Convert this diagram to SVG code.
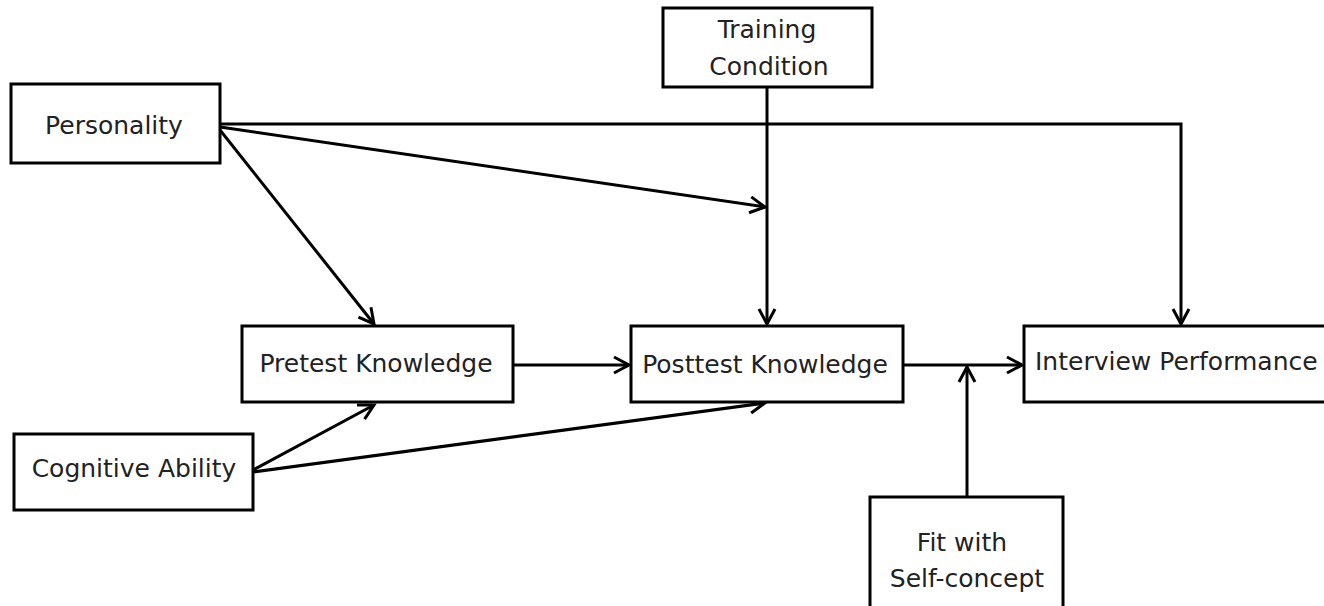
<svg xmlns="http://www.w3.org/2000/svg" width="1324" height="606" viewBox="0 0 1324 606">
  <defs>
    <marker id="arr" markerUnits="userSpaceOnUse" markerWidth="24" markerHeight="24" viewBox="-18 -12 24 24" refX="0" refY="0" orient="auto">
      <path d="M -15 -8 L 0 0 L -15 8" fill="none" stroke="#000" stroke-width="3"/>
    </marker>
  </defs>
  <style>
    .box { fill: #fff; stroke: #000; stroke-width: 3; }
    .lbl { font-family: "DejaVu Sans", Verdana, sans-serif; font-size: 25px; fill: #222; text-anchor: middle; }
    .con { fill: none; stroke: #000; stroke-width: 3; }
  </style>
  <rect width="1324" height="606" fill="#fff"/>

  <g id="connectors">
    <polyline class="con" points="220,124 1181,124 1181,324" marker-end="url(#arr)"/>
    <line class="con" x1="220" y1="127" x2="765" y2="207" marker-end="url(#arr)"/>
    <line class="con" x1="220" y1="130" x2="374" y2="324" marker-end="url(#arr)"/>
    <line class="con" x1="767" y1="87" x2="767" y2="324" marker-end="url(#arr)"/>
    <line class="con" x1="253" y1="470" x2="374" y2="405" marker-end="url(#arr)"/>
    <line class="con" x1="253" y1="472" x2="765" y2="403" marker-end="url(#arr)"/>
    <line class="con" x1="513" y1="365" x2="629" y2="365" marker-end="url(#arr)"/>
    <line class="con" x1="903" y1="365" x2="1022" y2="365" marker-end="url(#arr)"/>
    <line class="con" x1="967" y1="497" x2="967" y2="367" marker-end="url(#arr)"/>
  </g>

  <g id="personality">
    <rect class="box" x="11" y="84" width="209" height="79"/>
    <text class="lbl" x="114" y="134">Personality</text>
  </g>
  <g id="training">
    <rect class="box" x="663" y="8" width="209" height="79"/>
    <text class="lbl" x="767" y="38">Training</text>
    <text class="lbl" x="769" y="75">Condition</text>
  </g>
  <g id="pretest">
    <rect class="box" x="242" y="326" width="271" height="76"/>
    <text class="lbl" x="376" y="372">Pretest Knowledge</text>
  </g>
  <g id="posttest">
    <rect class="box" x="631" y="326" width="272" height="76"/>
    <text class="lbl" x="765" y="373">Posttest Knowledge</text>
  </g>
  <g id="interview">
    <rect class="box" x="1024" y="326" width="320" height="76"/>
    <text class="lbl" x="1035" y="370" style="text-anchor:start">Interview Performance</text>
  </g>
  <g id="cognitive">
    <rect class="box" x="14" y="434" width="239" height="76"/>
    <text class="lbl" x="134" y="477">Cognitive Ability</text>
  </g>
  <g id="fit">
    <rect class="box" x="870" y="497" width="193" height="130"/>
    <text class="lbl" x="962" y="551">Fit with</text>
    <text class="lbl" x="967" y="587">Self-concept</text>
  </g>
</svg>
